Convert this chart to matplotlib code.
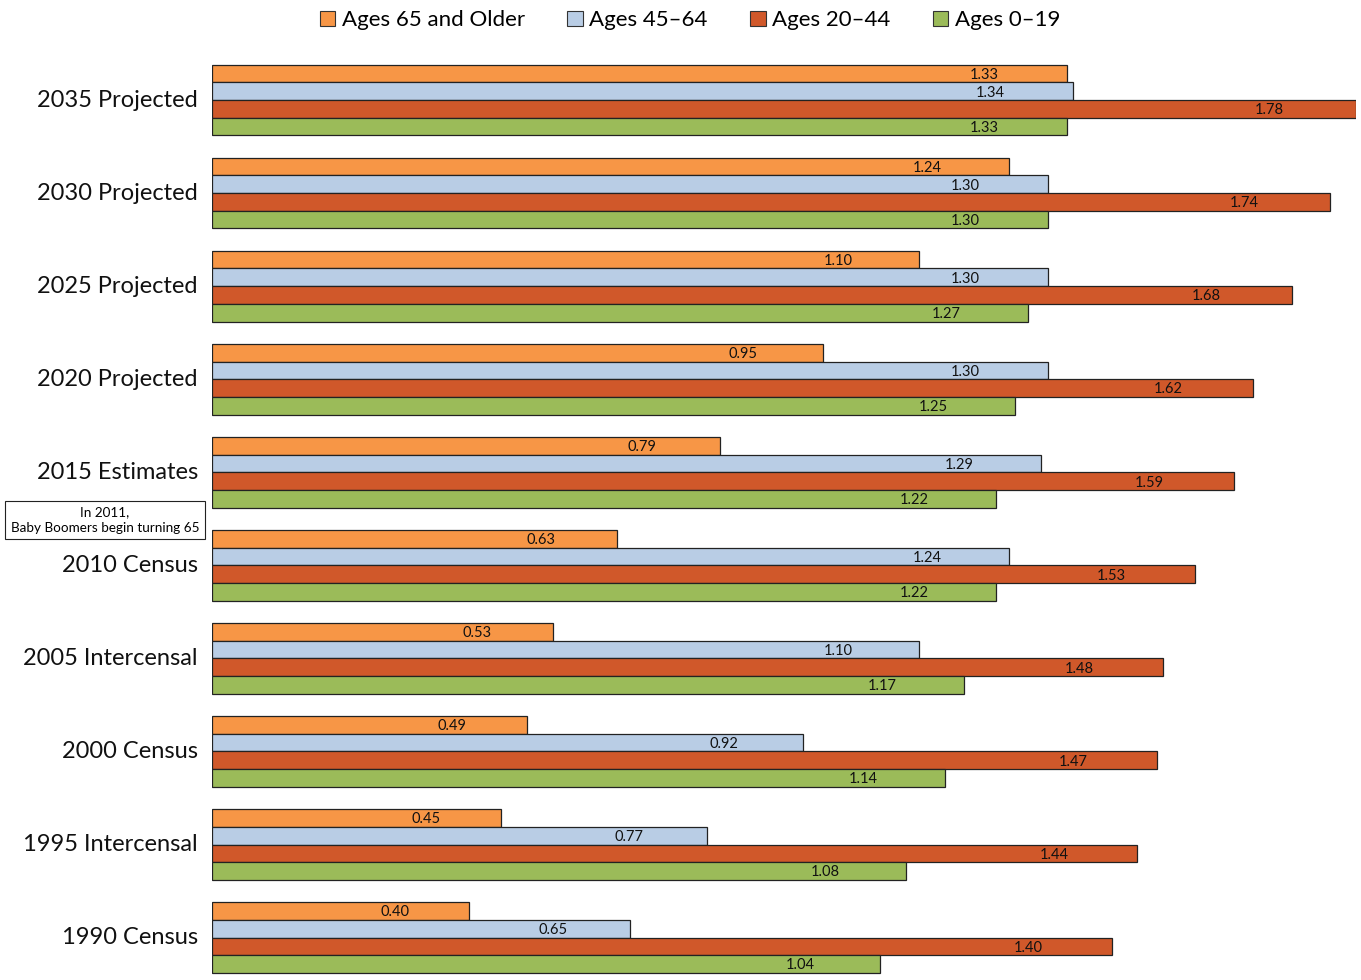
import numpy as np
import matplotlib.pyplot as plt
from matplotlib.patches import Patch

plt.rcParams['font.family'] = ['Lato', 'DejaVu Sans']

categories = ['1990 Census', '1995 Intercensal', '2000 Census', '2005 Intercensal',
              '2010 Census', '2015 Estimates', '2020 Projected', '2025 Projected',
              '2030 Projected', '2035 Projected']
series = ['Ages 65 and Older', 'Ages 45\u201364', 'Ages 20\u201344', 'Ages 0\u201319']
ages_65 = [0.40, 0.45, 0.49, 0.53, 0.63, 0.79, 0.95, 1.10, 1.24, 1.33]
ages_45 = [0.65, 0.77, 0.92, 1.10, 1.24, 1.29, 1.30, 1.30, 1.30, 1.34]
ages_20 = [1.40, 1.44, 1.47, 1.48, 1.53, 1.59, 1.62, 1.68, 1.74, 1.78]
ages_0 = [1.04, 1.08, 1.14, 1.17, 1.22, 1.22, 1.25, 1.27, 1.30, 1.33]
colors = ['#F79646', '#B9CDE5', '#D0582A', '#9BBB59']

fig = plt.figure(figsize=(13.61, 9.80), dpi=100)
ax = fig.add_axes([212 / 1361, 0.0, (1356 - 212) / 1361, 1 - 55 / 980])

y = np.arange(len(categories))
h = 0.19
offsets = [1.5 * h, 0.5 * h, -0.5 * h, -1.5 * h]
for vals, col, off in zip([ages_65, ages_45, ages_20, ages_0], colors, offsets):
    ax.barh(y + off, vals, height=h, color=col, edgecolor='#222222', linewidth=0.9)
    for yi, v in zip(y, vals):
        ax.text(v * 0.986 - 0.11, yi + off - 0.015, f'{v:.2f}', ha='center', va='center',
                fontsize=10.5, color='#111111')

ax.set_xlim(0, 1.78)
ax.set_ylim(-0.456, 9.484)
for s in ax.spines.values():
    s.set_visible(False)
ax.set_xticks([])
ax.set_yticks([])

for yi, c in zip(y, categories):
    ax.text(-0.022, yi, c, ha='right', va='center', fontsize=17, color='#111111',
            transform=ax.transData, clip_on=False)

fig.text(105 / 1361, 1 - 520 / 980, 'In 2011,\nBaby Boomers begin turning 65', ha='center', va='center',
         fontsize=9.7, linespacing=1.4,
         bbox=dict(boxstyle='square,pad=0.4', facecolor='white', edgecolor='#222222', linewidth=0.8))

handles = [Patch(facecolor=c, edgecolor='#333333', linewidth=0.8) for c in colors]
fig.legend(handles, series, loc='upper center', bbox_to_anchor=(0.507, 1.01), ncol=4,
           frameon=False, fontsize=16, handlelength=0.7, handleheight=0.7,
           handletextpad=0.3, columnspacing=1.9)

fig.savefig('out.png', dpi=100)
